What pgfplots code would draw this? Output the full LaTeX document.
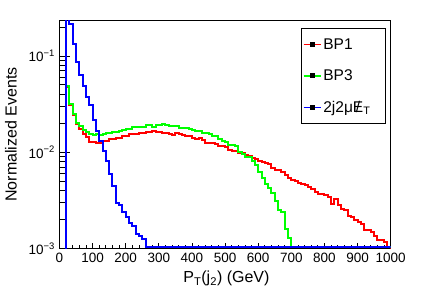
\documentclass[border=0pt]{standalone}
\usepackage{fontspec}
\setmainfont{Liberation Sans}
\usepackage{pgfplots}
\pgfplotsset{compat=1.18}
\begin{document}
\begin{tikzpicture}
\begin{axis}[
  scale only axis,
  width=331.2pt, height=227.8pt,
  xmin=0, xmax=1000, ymin=0.001, ymax=0.232,
  ymode=log,
  axis line style={line width=0.8pt},
  xtick={0,100,...,1000},
  minor x tick num=4,
  ytick={0.001,0.01,0.1},
  yticklabels={10\textsuperscript{−3},10\textsuperscript{−2},10\textsuperscript{−1}},
  minor ytick={0.002,0.003,0.004,0.005,0.006,0.007,0.008,0.009,0.02,0.03,0.04,0.05,0.06,0.07,0.08,0.09,0.2},
  xtick pos=left, ytick pos=left,
  tick align=inside,
  tick style={line width=0.8pt, black},
  x tick style={/pgfplots/major tick length=6pt, /pgfplots/minor tick length=3.5pt},
  y tick style={/pgfplots/major tick length=10pt, /pgfplots/minor tick length=5pt},
  ticklabel style={font=\fontsize{13.5}{15}\selectfont},
  /pgf/number format/assume math mode=true,
  /pgf/number format/1000 sep={},
  xticklabel style={yshift=-1pt},
  yticklabel style={xshift=-1pt},
  xlabel={P\textsubscript{T}(j\textsubscript{2}) (GeV)},
  ylabel={Normalized Events},
  label style={font=\fontsize{16}{18}\selectfont},
  xlabel style={at={(axis description cs:0.504,-0.151)}, anchor=base},
  ylabel style={at={(axis description cs:-0.147,0.5)}, anchor=center},
  legend style={at={(0.985,0.967)}, anchor=north east, draw=black, line width=0.8pt,
    font=\fontsize{15.5}{17}\selectfont, row sep=15pt, inner xsep=2pt, inner ysep=8pt},
  legend cell align=left,
  legend image code/.code={\draw[#1, line width=1.2pt] (0pt,0pt) -- (17pt,0pt);
    \fill[black] (7pt,-1.5pt) rectangle (10pt,1.5pt);},
]
\addplot[const plot mark left, red, line width=2pt] coordinates {
(0,1e-4)(10,1e-4)(20,0.047)(30,0.031)(40,0.0245)(50,0.0198)(60,0.0175)(70,0.0155)(80,0.0144)(90,0.0127)
(100,0.0127)(110,0.0126)(120,0.0126)(130,0.0130)(140,0.0132)(150,0.0136)(160,0.0136)(170,0.0141)(180,0.0140)(190,0.0146)
(200,0.0149)(210,0.0155)(220,0.0155)(230,0.0155)(240,0.0158)(250,0.0158)(260,0.0162)(270,0.0164)(280,0.0168)(290,0.0164)
(300,0.0162)(310,0.0158)(320,0.0158)(330,0.0155)(340,0.0152)(350,0.0158)(360,0.0155)(370,0.0150)(380,0.0146)(390,0.0146)
(400,0.0141)(410,0.0138)(420,0.0141)(430,0.0135)(440,0.0124)(450,0.0124)(460,0.0124)(470,0.0122)(480,0.0115)(490,0.0115)
(500,0.0113)(510,0.0106)(520,0.0104)(530,0.0104)(540,0.0098)(550,0.0097)(560,0.0093)(570,0.0092)(580,0.0088)(590,0.0084)
(600,0.0081)(610,0.0079)(620,0.0077)(630,0.0075)(640,0.0068)(650,0.0066)(660,0.0065)(670,0.0062)(680,0.0058)(690,0.0054)
(700,0.0051)(710,0.0050)(720,0.0048)(730,0.0047)(740,0.0046)(750,0.0044)(760,0.0041)(770,0.0039)(780,0.0037)(790,0.0037)
(800,0.0036)(810,0.0034)(820,0.0029)(830,0.0033)(840,0.0028)(850,0.0026)(860,0.0025)(870,0.0022)(880,0.0021)(890,0.0020)
(900,0.0019)(910,0.0018)(920,0.00155)(930,0.00154)(940,0.0015)(950,0.00136)(960,0.00123)(970,0.00123)(980,0.00116)(990,0.00104)
(1000,0.00104)(1000,1e-4)
};
\addlegendentry{\makebox[58pt][l]{BP1}}
\addplot[const plot mark left, green, line width=2pt] coordinates {
(0,1e-4)(10,1e-4)(20,0.0487)(30,0.0319)(40,0.025)(50,0.0202)(60,0.0186)(70,0.0172)(80,0.0162)(90,0.0155)
(100,0.0152)(110,0.0155)(120,0.0150)(130,0.0155)(140,0.0160)(150,0.0160)(160,0.0164)(170,0.0164)(180,0.0168)(190,0.0170)
(200,0.0175)(210,0.0175)(220,0.0182)(230,0.0182)(240,0.0184)(250,0.0184)(260,0.0190)(270,0.0190)(280,0.0184)(290,0.0193)
(300,0.0190)(310,0.0196)(320,0.0190)(330,0.0187)(340,0.0189)(350,0.0185)(360,0.0180)(370,0.0180)(380,0.0177)(390,0.0175)
(400,0.0172)(410,0.0168)(420,0.0165)(430,0.0160)(440,0.0160)(450,0.0155)(460,0.0147)(470,0.0147)(480,0.0136)(490,0.0130)
(500,0.0127)(510,0.0119)(520,0.0119)(530,0.0116)(540,0.0101)(550,0.0095)(560,0.0089)(570,0.0089)(580,0.0082)(590,0.0073)
(600,0.0063)(610,0.0054)(620,0.0047)(630,0.0043)(640,0.0038)(650,0.0031)(660,0.0025)(670,0.0024)(680,0.0016)(690,0.0013)
(700,0.00103)(1000,0.00103)
};
\addlegendentry{\makebox[58pt][l]{BP3}}
\addplot[const plot mark left, blue, line width=2pt] coordinates {
(0,1e-4)(10,1e-4)(20,0.4)(30,0.212)(40,0.134)(50,0.0866)(60,0.063)(70,0.0487)(80,0.0374)(90,0.0306)
(100,0.0214)(110,0.0168)(120,0.0132)(130,0.0104)(140,0.0082)(150,0.0060)(160,0.0045)(170,0.0030)(180,0.0028)(190,0.0024)
(200,0.0021)(210,0.00186)(220,0.00173)(230,0.0014)(240,0.00136)(250,0.00126)(260,0.00103)(1000,0.00103)
};
\addlegendentry{\makebox[58pt][l]{2j2μ\ooalign{E\cr\hidewidth/\hidewidth}\textsubscript{T}}}
\end{axis}
\path (current axis.south west) ++(-59.5pt,-51.5pt) coordinate (bl);
\path (current axis.north east) ++(45.3pt,20.7pt) coordinate (tr);
\pgfresetboundingbox
\path[use as bounding box] (bl) rectangle (tr);
\end{tikzpicture}
\end{document}
